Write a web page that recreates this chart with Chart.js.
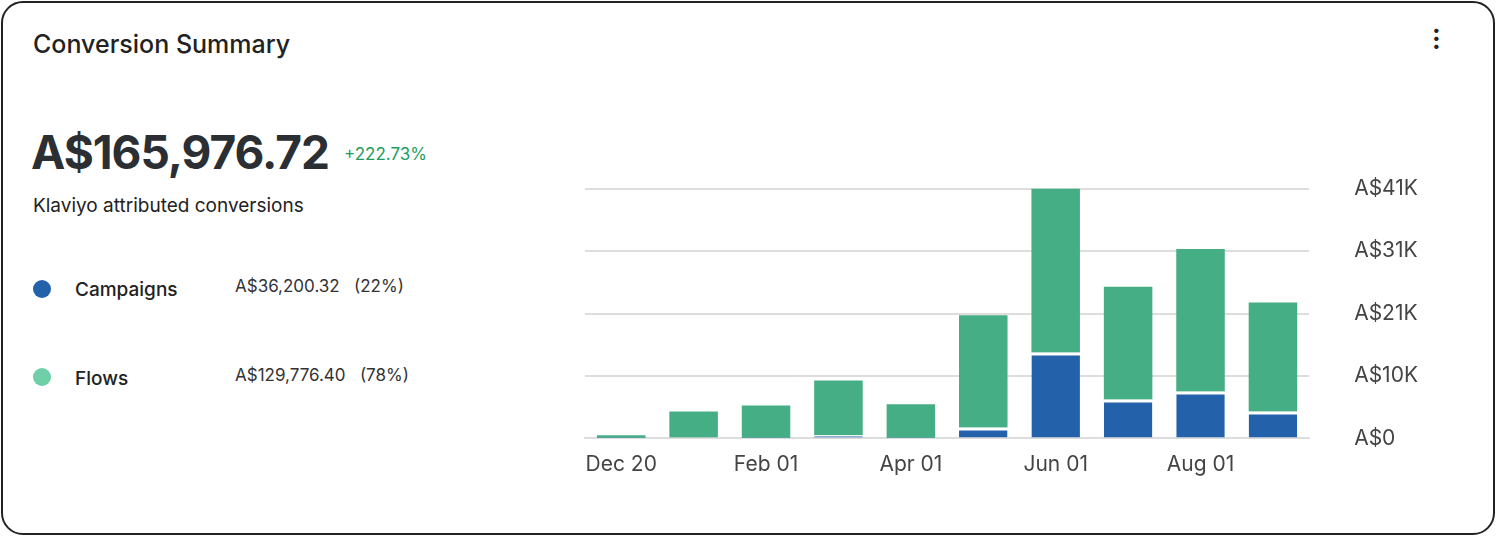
<!DOCTYPE html>
<html><head><meta charset="utf-8">
<script src="https://cdn.jsdelivr.net/npm/chart.js@4"></script>
<style>
body{margin:0;width:1500px;height:540px;background:#fff;font-family:Inter,"Noto Sans",sans-serif;overflow:hidden}
#frame{position:absolute;left:1px;top:1px;width:1494px;height:534px;border:2px solid #222;border-radius:22px;box-sizing:border-box}
.t{position:absolute;color:#222;white-space:nowrap}
#wrap{position:absolute;left:575px;top:131px;width:888px;height:365px}
.dot{position:absolute;width:18px;height:18px;border-radius:50%}
</style></head><body>
<div id="frame"></div>
<div class="t" style="left:33px;top:29px;font-size:25px;font-weight:500">Conversion Summary</div>
<div class="t" style="left:1432px;top:20px;font-size:26px;font-weight:700;line-height:8px">.<br>.<br>.</div>
<div class="t" style="left:31px;top:124px;font-size:46px;font-weight:700;color:#2b2f33;letter-spacing:-1px">A$165,976.72</div>
<div class="t" style="left:344px;top:144px;font-size:17px;color:#1f9d5c">+222.73%</div>
<div class="t" style="left:33px;top:194px;font-size:19px">Klaviyo attributed conversions</div>
<div class="dot" style="left:33px;top:280px;background:#2461ab"></div>
<div class="t" style="left:75px;top:278px;font-size:19px;font-weight:500">Campaigns</div>
<div class="t" style="left:235px;top:276px;font-size:17px;color:#333">A$36,200.32 &nbsp;&nbsp;(22%)</div>
<div class="dot" style="left:33px;top:368px;background:#6fcfa8"></div>
<div class="t" style="left:75px;top:367px;font-size:19px;font-weight:500">Flows</div>
<div class="t" style="left:235px;top:365px;font-size:17px;color:#333">A$129,776.40 &nbsp;&nbsp;(78%)</div>
<div id="wrap"><canvas id="c"></canvas></div>
<script>
const categories=["Dec 20","Jan","Feb 01","Mar","Apr 01","May","Jun 01","Jul","Aug 01","Sep"];
const campaigns=[100,200,100,500,100,1800,14100,6400,7700,4400];
const flows=[400,4200,5300,9000,5500,18400,26900,18500,23400,17900];
const tickValues=[0,10250,20500,30750,41000];
const tickLabels=["A$0","A$10K","A$21K","A$31K","A$41K"];
new Chart(document.getElementById('c'),{type:'bar',
data:{labels:categories,datasets:[
{label:'Campaigns',data:campaigns,backgroundColor:'#2461ab',borderColor:'#fff',borderWidth:{top:3},borderSkipped:'bottom'},
{label:'Flows',data:flows,backgroundColor:'#46ae84',borderWidth:0}]},
options:{responsive:true,maintainAspectRatio:false,animation:false,
layout:{padding:{left:10,top:8,right:0,bottom:0}},
plugins:{legend:{display:false},tooltip:{enabled:false}},
datasets:{bar:{categoryPercentage:1,barPercentage:0.67}},
scales:{
x:{stacked:true,grid:{display:false},border:{color:'#ddd',width:2},
ticks:{color:'#444',font:{size:21,family:'Inter'},maxRotation:0,autoSkip:false,padding:6,
callback:(v,i)=>i%2===0?categories[i]:''}},
y:{stacked:true,position:'right',min:0,max:41000,
afterBuildTicks:a=>{a.ticks=tickValues.map(v=>({value:v}));},
grid:{color:'#ddd',lineWidth:2,drawTicks:false},border:{display:false},
ticks:{color:'#444',font:{size:21,family:'Inter'},padding:45,
callback:v=>tickLabels[tickValues.indexOf(v)]}}}}});
</script>
</body></html>
